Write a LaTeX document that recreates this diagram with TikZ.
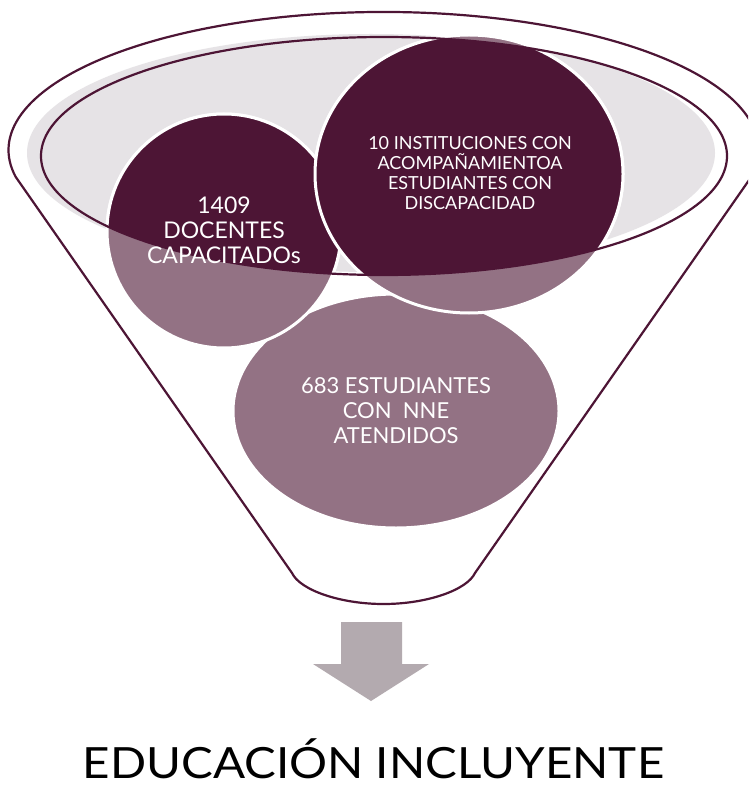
\documentclass[tikz,border=0pt]{standalone}
\usepackage{fontspec}
\setmainfont{Lato}
\definecolor{maroon}{HTML}{4D1535}
\definecolor{mauve}{HTML}{937284}
\definecolor{rimgray}{HTML}{E6E3E6}
\definecolor{arrowgray}{HTML}{B3AAAF}
\tikzset{
  funnelline/.style={draw=maroon, line width=2.2pt, line join=round},
  lightdisc/.style={fill=mauve, draw=white, line width=3pt},
  darkdisc/.style={fill=maroon, draw=white, line width=3pt},
  disctext/.style={text=white, align=center, inner sep=0pt},
}
\begin{document}
\begin{tikzpicture}[x=1pt, y=-1pt]
\useasboundingbox (0,0) rectangle (748,786);
\clip (0,0) rectangle (748,786);
\fill[white] (0,0) rectangle (748,786);

% funnel body
\path[funnelline, fill=white] (751.2,177)
  arc[start angle=11.3, end angle=-191.3, x radius=375, y radius=138]
  -- (292,573) .. controls (300,590) and (340,604) .. (383.5,604)
  .. controls (427,604) and (467,590) .. (475,573) -- cycle;

% rim (opening)
\fill[rimgray] (371,153) ellipse [x radius=344, y radius=119];

% discs, light parts
\path[lightdisc] (396,411) ellipse [x radius=163, y radius=117];
\path[lightdisc] (224,231) ellipse [x radius=117, y radius=117];
\path[lightdisc] (469,174) ellipse [x radius=154, y radius=139];

% discs, dark parts inside the opening
\begin{scope}
  \clip (384,156) ellipse [x radius=343, y radius=119];
  \path[darkdisc] (224,231) ellipse [x radius=117, y radius=117];
  \path[darkdisc] (469,174) ellipse [x radius=154, y radius=139];
\end{scope}

% opening outline
\draw[maroon, line width=2.2pt] (384,156) ellipse [x radius=343, y radius=119];

% texts
\node[disctext, font=\fontsize{23}{25}\selectfont] (docentes) at (224,230)
  {1409\\DOCENTES\\CAPACITADOs};
\node[disctext, font=\fontsize{18}{20}\selectfont] (instituciones) at (470,173)
  {10 INSTITUCIONES CON\\ACOMPAÑAMIENTOA\\ESTUDIANTES CON\\DISCAPACIDAD};
\node[disctext, font=\fontsize{22}{25}\selectfont] (estudiantes) at (396,410.5)
  {683 ESTUDIANTES\\CON\ \ NNE\\ATENDIDOS};

% block arrow
\fill[arrowgray] (341,622) -- (402,622) -- (402,664) -- (429,664) -- (371,701)
  -- (313,664) -- (341,664) -- cycle;

\node[anchor=base, inner sep=0pt, font=\fontsize{43}{48}\selectfont] (titulo) at (373.5,778)
  {\scalebox{1.105}[1]{EDUCACIÓN INCLUYENTE}};
\end{tikzpicture}
\end{document}
